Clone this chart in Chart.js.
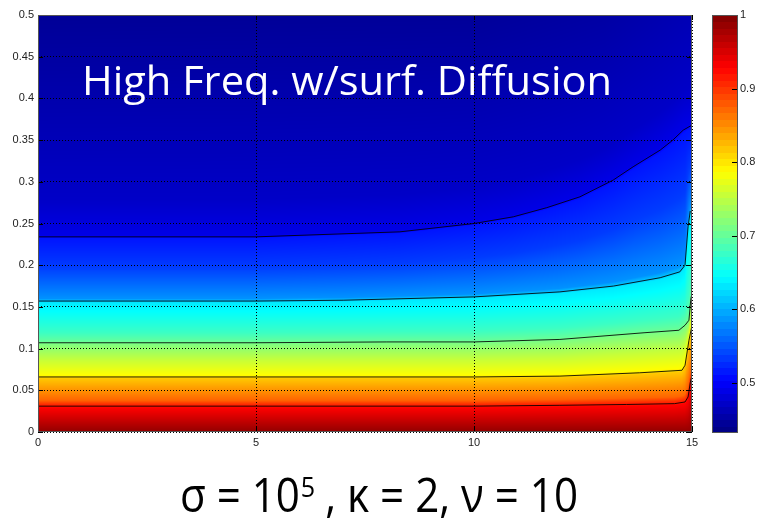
<!DOCTYPE html>
<html>
<head>
<meta charset="utf-8">
<script src="https://cdn.jsdelivr.net/npm/chart.js@4/dist/chart.umd.min.js"></script>
<style>
  html, body { margin: 0; padding: 0; background: #fff; }
  #wrap { position: relative; width: 765px; height: 519px; overflow: hidden; }
  #main { position: absolute; left: 0; top: 0; }
  #bar  { position: absolute; left: 700px; top: 0; }
</style>
</head>
<body>
<div id="wrap">
  <canvas id="main" width="765" height="519"></canvas>
  <canvas id="bar" width="65" height="455"></canvas>
</div>
<script>
// ═════ DATA ═════
const xTickValues = [0, 5, 10, 15];
const yTickValues = [0, 0.05, 0.1, 0.15, 0.2, 0.25, 0.3, 0.35, 0.4, 0.45, 0.5];
const colorbarTicks = [0.5, 0.6, 0.7, 0.8, 0.9, 1];
const colorMin = 0.432, colorMax = 1;

const titleText = 'High Freq. w/surf. Diffusion';
const captionParts = ['σ = 10', '5', ' , κ = 2, ν = 10'];

// contour lines, bottom to top
const contour1X = [0, 5, 10, 11.97, 13.5, 14.6, 14.84, 14.91, 14.96, 15];
const contour1Y = [0.031, 0.031, 0.031, 0.032, 0.033, 0.034, 0.036, 0.042, 0.059, 0.068];
const contour2X = [0, 5, 10, 11.97, 13.8, 14.77, 14.84, 14.93, 15];
const contour2Y = [0.066, 0.066, 0.066, 0.067, 0.071, 0.074, 0.08, 0.11, 0.128];
const contour3X = [0, 5, 8, 10, 11.97, 13.9, 14.7, 14.84, 14.93, 14.97, 15];
const contour3Y = [0.107, 0.107, 0.108, 0.108, 0.111, 0.119, 0.122, 0.128, 0.134, 0.158, 0.167];
const contour4X = [0, 5, 7, 10, 11.97, 13.2, 14.27, 14.72, 14.84, 14.91, 14.96];
const contour4Y = [0.157, 0.157, 0.158, 0.162, 0.168, 0.175, 0.185, 0.192, 0.2, 0.246, 0.265];
const contour5X = [0, 5, 8.3, 10, 10.9, 11.67, 12.43, 13.19, 13.65, 14.27, 14.56, 14.8, 15];
const contour5Y = [0.234, 0.234, 0.24, 0.25, 0.258, 0.269, 0.282, 0.302, 0.318, 0.338, 0.35, 0.362, 0.368];

// colour value along the left edge (x = 0), read from the shading
const profileY = [0, 0.029, 0.033, 0.038, 0.064, 0.068, 0.086, 0.105, 0.109, 0.119, 0.145, 0.155, 0.16, 0.198, 0.232, 0.236, 0.278, 0.5];
const profileV = [0.99, 0.929, 0.906, 0.873, 0.818, 0.787, 0.756, 0.716, 0.7, 0.678, 0.645, 0.634, 0.584, 0.536, 0.514, 0.489, 0.472, 0.445];

// top edge is a bit lighter towards the right: equivalent left-edge height
const topWarpX = [0, 10, 13, 15];
const topWarpY = [0.5, 0.49, 0.44, 0.36];

const contoursX = [contour1X, contour2X, contour3X, contour4X, contour5X];
const contoursY = [contour1Y, contour2Y, contour3Y, contour4Y, contour5Y];

// ═════ HELPERS ═════
function interp(xs, ys, v) {
  if (v <= xs[0]) return ys[0];
  const n = xs.length - 1;
  if (v >= xs[n]) return ys[n];
  for (let i = 1; i <= n; i++) {
    if (v <= xs[i]) {
      const f = (v - xs[i-1]) / (xs[i] - xs[i-1]);
      return ys[i-1] + f * (ys[i] - ys[i-1]);
    }
  }
  return ys[n];
}
const clamp = v => Math.max(0, Math.min(1, v));
function jet(t) {
  t = clamp(t);
  return [
    clamp(Math.min(4*t - 1.5, -4*t + 4.5)),
    clamp(Math.min(4*t - 0.5, -4*t + 3.5)),
    clamp(Math.min(4*t + 0.5, -4*t + 2.5))
  ].map(c => Math.round(c * 255));
}
const fmt = v => String(+v.toFixed(2));
const tickFont = { family: '"Liberation Sans", Arial, sans-serif', size: 11 };

// ═════ PLUGINS ═════
const fieldPlugin = {
  id: 'field',
  beforeDraw(chart) {
    const { ctx, chartArea: a, scales: { x, y } } = chart;
    const w = Math.round(a.right - a.left), h = Math.round(a.bottom - a.top);
    const off = document.createElement('canvas');
    off.width = w; off.height = h;
    const octx = off.getContext('2d');
    const img = octx.createImageData(w, h);
    const leftHeights = contoursY.map(c => c[0]);
    for (let i = 0; i < w; i++) {
      const xv = x.getValueForPixel(a.left + i + 0.5);
      const knots = [0, ...contoursX.map((cx, k) => interp(cx, contoursY[k], xv)), 0.5];
      const targets = [0, ...leftHeights, interp(topWarpX, topWarpY, xv)];
      for (let j = 0; j < h; j++) {
        const yv = y.getValueForPixel(a.top + j + 0.5);
        const yl = interp(knots, targets, yv);
        const v = interp(profileY, profileV, yl);
        const c = jet((v - colorMin) / (colorMax - colorMin));
        const p = (j * w + i) * 4;
        img.data[p] = c[0]; img.data[p+1] = c[1]; img.data[p+2] = c[2]; img.data[p+3] = 255;
      }
    }
    octx.putImageData(img, 0, 0);
    ctx.drawImage(off, a.left, a.top);
  },
  afterDatasetsDraw(chart) {
    const { ctx, chartArea: a, scales: { x, y } } = chart;
    ctx.save();
    ctx.strokeStyle = '#000'; ctx.lineWidth = 1;
    ctx.beginPath();
    y.ticks.forEach(t => {
      const py = Math.round(y.getPixelForValue(t.value)) + 0.5;
      ctx.moveTo(a.left, py); ctx.lineTo(a.left + 5, py);
      ctx.moveTo(a.right, py); ctx.lineTo(a.right - 5, py);
    });
    x.ticks.forEach(t => {
      const px = Math.round(x.getPixelForValue(t.value)) + 0.5;
      ctx.moveTo(px, a.bottom); ctx.lineTo(px, a.bottom - 5);
      ctx.moveTo(px, a.top); ctx.lineTo(px, a.top + 5);
    });
    ctx.stroke();
    ctx.strokeStyle = '#555';
    ctx.strokeRect(a.left + 0.5, a.top + 0.5, a.right - a.left - 1, a.bottom - a.top - 1);
    ctx.restore();
  },
  afterDraw(chart) {
    const ctx = chart.ctx;
    ctx.save();
    // title inside the plot
    ctx.fillStyle = '#fff';
    ctx.font = '41px "Open Sans", "Noto Sans", sans-serif';
    ctx.textBaseline = 'alphabetic';
    const tw = ctx.measureText(titleText).width;
    ctx.translate(82, 95);
    ctx.scale(530 / tw, 1);
    ctx.fillText(titleText, 0, 0);
    ctx.restore();

    // caption under the plot
    ctx.save();
    ctx.fillStyle = '#000';
    const big = '47px "Open Sans", "Noto Sans", sans-serif';
    const small = '28px "Open Sans", "Noto Sans", sans-serif';
    ctx.font = big; const w0 = ctx.measureText(captionParts[0]).width;
    ctx.font = small; const w1 = ctx.measureText(captionParts[1]).width;
    ctx.font = big; const w2 = ctx.measureText(captionParts[2]).width;
    ctx.translate(180, 512);
    ctx.scale(398 / (w0 + w1 + w2), 1);
    ctx.font = big; ctx.fillText(captionParts[0], 0, 0);
    ctx.font = small; ctx.fillText(captionParts[1], w0 + 1, -15);
    ctx.font = big; ctx.fillText(captionParts[2], w0 + w1, 0);
    ctx.restore();
  }
};

const colorbarPlugin = {
  id: 'colorbar',
  beforeDatasetsDraw(chart) {
    const { ctx, chartArea: a, scales: { y } } = chart;
    const steps = 64;
    ctx.save();
    for (let i = 0; i < steps; i++) {
      const v0 = colorMin + (colorMax - colorMin) * i / steps;
      const v1 = colorMin + (colorMax - colorMin) * (i + 1) / steps;
      const c = jet((i + 0.5) / steps);
      const p0 = y.getPixelForValue(v0), p1 = y.getPixelForValue(v1);
      ctx.fillStyle = `rgb(${c[0]},${c[1]},${c[2]})`;
      ctx.fillRect(a.left, Math.floor(p1), a.right - a.left, Math.ceil(p0) - Math.floor(p1));
    }
    ctx.strokeStyle = '#000'; ctx.lineWidth = 1;
    ctx.beginPath();
    y.ticks.forEach(t => {
      const py = Math.round(y.getPixelForValue(t.value)) + 0.5;
      ctx.moveTo(a.right, py); ctx.lineTo(a.right - 6, py);
    });
    ctx.stroke();
    ctx.strokeStyle = '#555';
    ctx.strokeRect(a.left + 0.5, a.top + 0.5, a.right - a.left - 1, a.bottom - a.top - 1);
    ctx.restore();
  }
};

// ═════ MAIN PLOT ═════
const contourSets = contoursX.map((cx, k) => ({
  label: 'contour ' + (k + 1),
  data: cx.map((xv, i) => ({ x: xv, y: contoursY[k][i] })),
  showLine: true, pointRadius: 0, borderColor: 'rgba(0,0,0,0.85)', borderWidth: 1, tension: 0
}));

new Chart(document.getElementById('main'), {
  type: 'scatter',
  data: { datasets: contourSets },
  options: {
    responsive: false, animation: false,
    layout: { padding: { left: 0, top: 15, right: 73, bottom: 64 } },
    plugins: { legend: { display: false }, tooltip: { enabled: false } },
    scales: {
      x: {
        type: 'linear', min: 0, max: 15,
        afterBuildTicks: s => { s.ticks = xTickValues.map(v => ({ value: v })); },
        afterFit: s => { s.height = 23; },
        ticks: { font: tickFont, color: '#222', padding: 4, callback: v => fmt(v), maxRotation: 0 },
        grid: { color: '#000', lineWidth: 1, drawTicks: false },
        border: { display: false, dash: [1, 2] }
      },
      y: {
        type: 'linear', min: 0, max: 0.5,
        afterBuildTicks: s => { s.ticks = yTickValues.map(v => ({ value: v })); },
        afterFit: s => { s.width = 38; },
        ticks: { font: tickFont, color: '#222', padding: 4, callback: v => fmt(v) },
        grid: { color: '#000', lineWidth: 1, drawTicks: false },
        border: { display: false, dash: [1, 2] }
      }
    }
  },
  plugins: [fieldPlugin]
});

// ═════ COLORBAR ═════
new Chart(document.getElementById('bar'), {
  type: 'scatter',
  data: { datasets: [{ data: [] }] },
  options: {
    responsive: false, animation: false,
    layout: { padding: { left: 12, top: 15, right: 0, bottom: 22 } },
    plugins: { legend: { display: false }, tooltip: { enabled: false } },
    scales: {
      x: { display: false, min: 0, max: 1 },
      y: {
        position: 'right', min: colorMin, max: colorMax,
        afterBuildTicks: s => { s.ticks = colorbarTicks.map(v => ({ value: v })); },
        afterFit: s => { s.width = 27; },
        ticks: { font: tickFont, color: '#222', padding: 2, callback: v => fmt(v) },
        grid: { drawOnChartArea: false, drawTicks: false },
        border: { display: false }
      }
    }
  },
  plugins: [colorbarPlugin]
});
</script>
</body>
</html>
